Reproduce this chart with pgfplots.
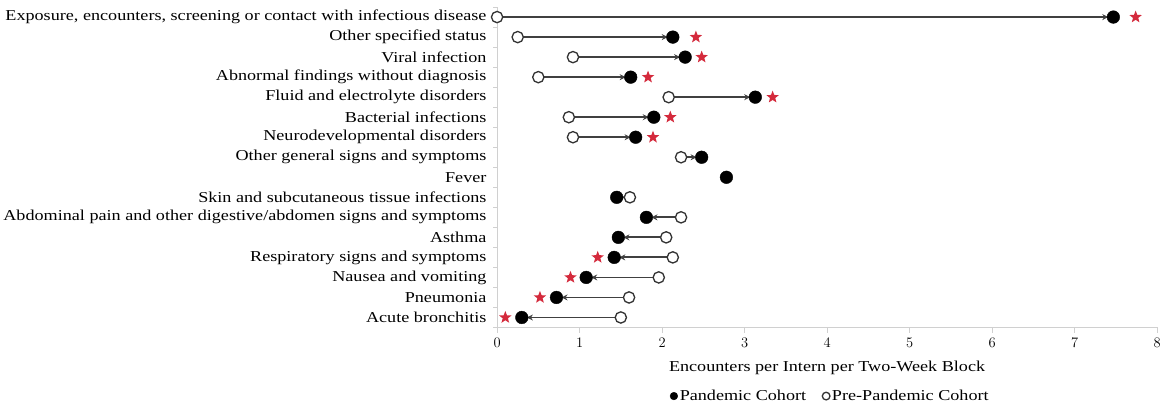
\documentclass[border=0pt]{standalone}
\usepackage{fontspec}
\setmainfont{Liberation Serif}[FakeStretch=1.2]
\usepackage{pgfplots}
\pgfplotsset{compat=1.18}
\usepackage{pgfplotstable}
\usetikzlibrary{arrows.meta}

\pgfdeclareplotmark{fstar}{%
  \pgfpathmoveto{\pgfpointpolar{90}{\pgfplotmarksize}}%
  \pgfpathlineto{\pgfpointpolar{126}{0.42*\pgfplotmarksize}}%
  \pgfpathlineto{\pgfpointpolar{162}{\pgfplotmarksize}}%
  \pgfpathlineto{\pgfpointpolar{198}{0.42*\pgfplotmarksize}}%
  \pgfpathlineto{\pgfpointpolar{234}{\pgfplotmarksize}}%
  \pgfpathlineto{\pgfpointpolar{270}{0.42*\pgfplotmarksize}}%
  \pgfpathlineto{\pgfpointpolar{306}{\pgfplotmarksize}}%
  \pgfpathlineto{\pgfpointpolar{342}{0.42*\pgfplotmarksize}}%
  \pgfpathlineto{\pgfpointpolar{18}{\pgfplotmarksize}}%
  \pgfpathlineto{\pgfpointpolar{54}{0.42*\pgfplotmarksize}}%
  \pgfpathclose
  \pgfusepathqfill}

\definecolor{starred}{HTML}{D42A3C}
\definecolor{axgray}{HTML}{D0D0D0}

\pgfplotstableread{
y pre pand star
16 0.00 7.47 7.74
15 0.25 2.13 2.41
14 0.92 2.28 2.48
13 0.50 1.62 1.83
12 2.08 3.13 3.34
11 0.87 1.90 2.10
10 0.92 1.68 1.89
9 2.23 2.48 nan
8 2.78 2.78 nan
7 1.61 1.45 nan
6 2.23 1.81 nan
5 2.05 1.47 nan
4 2.13 1.42 1.22
3 1.96 1.08 0.89
2 1.60 0.72 0.52
1 1.50 0.30 0.10
}\data

\begin{document}
\begin{tikzpicture}
\begin{axis}[
  width=655pt, height=318pt, scale only axis,
  xmin=0, xmax=8, ymin=0.5, ymax=16.5,
  axis x line*=bottom, axis y line*=left,
  axis line style={axgray, line width=0.8pt, -},
  xtick={0,1,...,8},
  ytick={1,...,16},
  yticklabels={Acute bronchitis, Pneumonia, Nausea and vomiting, Respiratory signs and symptoms, Asthma, Abdominal pain and other digestive/abdomen signs and symptoms, Skin and subcutaneous tissue infections, Fever, Other general signs and symptoms, Neurodevelopmental disorders, Bacterial infections, Fluid and electrolyte disorders, Abnormal findings without diagnosis, Viral infection, Other specified status, {Exposure, encounters, screening or contact with infectious disease}},
  minor ytick={0.5,1.5,...,16.5},
  tick align=outside,
  major tick length=5pt,
  y tick style={draw=none},
  minor y tick style={draw=axgray, line width=0.8pt},
  minor tick length=4pt,
  x tick style={axgray, line width=0.8pt},
  tick label style={font=\fontsize{15}{17}\selectfont, black},
  yticklabel style={xshift=-2pt},
  xticklabel style={yshift=-2pt},
  xlabel={Encounters per Intern per Two-Week Block},
  xlabel style={font=\fontsize{15}{17}\selectfont, at={(axis description cs:0.5,-0.126)}, anchor=center},
  legend style={at={(0.505,-0.214)}, anchor=center, draw=none, legend columns=2,
    font=\fontsize{15}{17}\selectfont, inner sep=0pt,
    /tikz/every even column/.append style={column sep=14pt}},
  legend image code/.code={\draw[#1] plot coordinates {(0.12cm,0cm)};},
  legend image post style={mark size=3.8pt},
  legend cell align=left,
  clip=false,
]
\addplot[quiver={u=\thisrow{pand}-\thisrow{pre}, v=0,
    every arrow/.append style={-{Stealth[length=6pt,width=6pt]}, shorten >=5pt, line width=1.8pt, draw=black!75}},
  black!75, line width=1.8pt, skip coords between index={8}{9}, forget plot]
  table[x=pre, y=y] {\data};
\addplot[only marks, mark=*, mark size=6.3pt, black, fill=black] table[x=pand, y=y] {\data};
\addlegendentry{Pandemic Cohort}
\addplot[only marks, mark=*, mark size=5.6pt, black!80, line width=1.3pt, fill=white, skip coords between index={8}{9}] table[x=pre, y=y] {\data};
\addlegendentry{Pre-Pandemic Cohort}
\addplot[only marks, mark=fstar, mark size=6.5pt, starred, forget plot, unbounded coords=discard] table[x=star, y=y] {\data};
\end{axis}
\path (current axis.north) ++(0,7pt) coordinate (topspace);
\end{tikzpicture}
\end{document}
